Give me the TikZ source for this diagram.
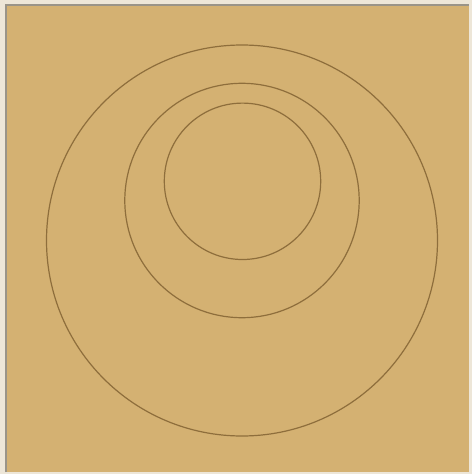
\documentclass[tikz,border=0pt]{standalone}
\definecolor{tanbg}{HTML}{D4B172}
\definecolor{ringcol}{HTML}{8E6E3C}
\definecolor{edgecol}{HTML}{9A9488}
\definecolor{outercol}{HTML}{EDE6D8}
\tikzset{ring/.style={draw=ringcol, line width=1.2pt}}
\begin{document}
\begin{tikzpicture}[x=1pt,y=-1pt]
\useasboundingbox (0,0) rectangle (472,474);
\fill[outercol] (0,0) rectangle (472,474);
\fill[tanbg] (6,5) rectangle (469,472);
\draw[edgecol, line width=1.2pt] (6,472) -- (6,5) -- (469,5);
\coordinate (cL) at (242,240.5);
\coordinate (cM) at (242,200.5);
\coordinate (cS) at (242.5,181.3);
\draw[ring] (cL) circle[radius=195.5];
\draw[ring] (cM) circle[radius=117.2];
\draw[ring] (cS) circle[radius=78.2];
\end{tikzpicture}
\end{document}
